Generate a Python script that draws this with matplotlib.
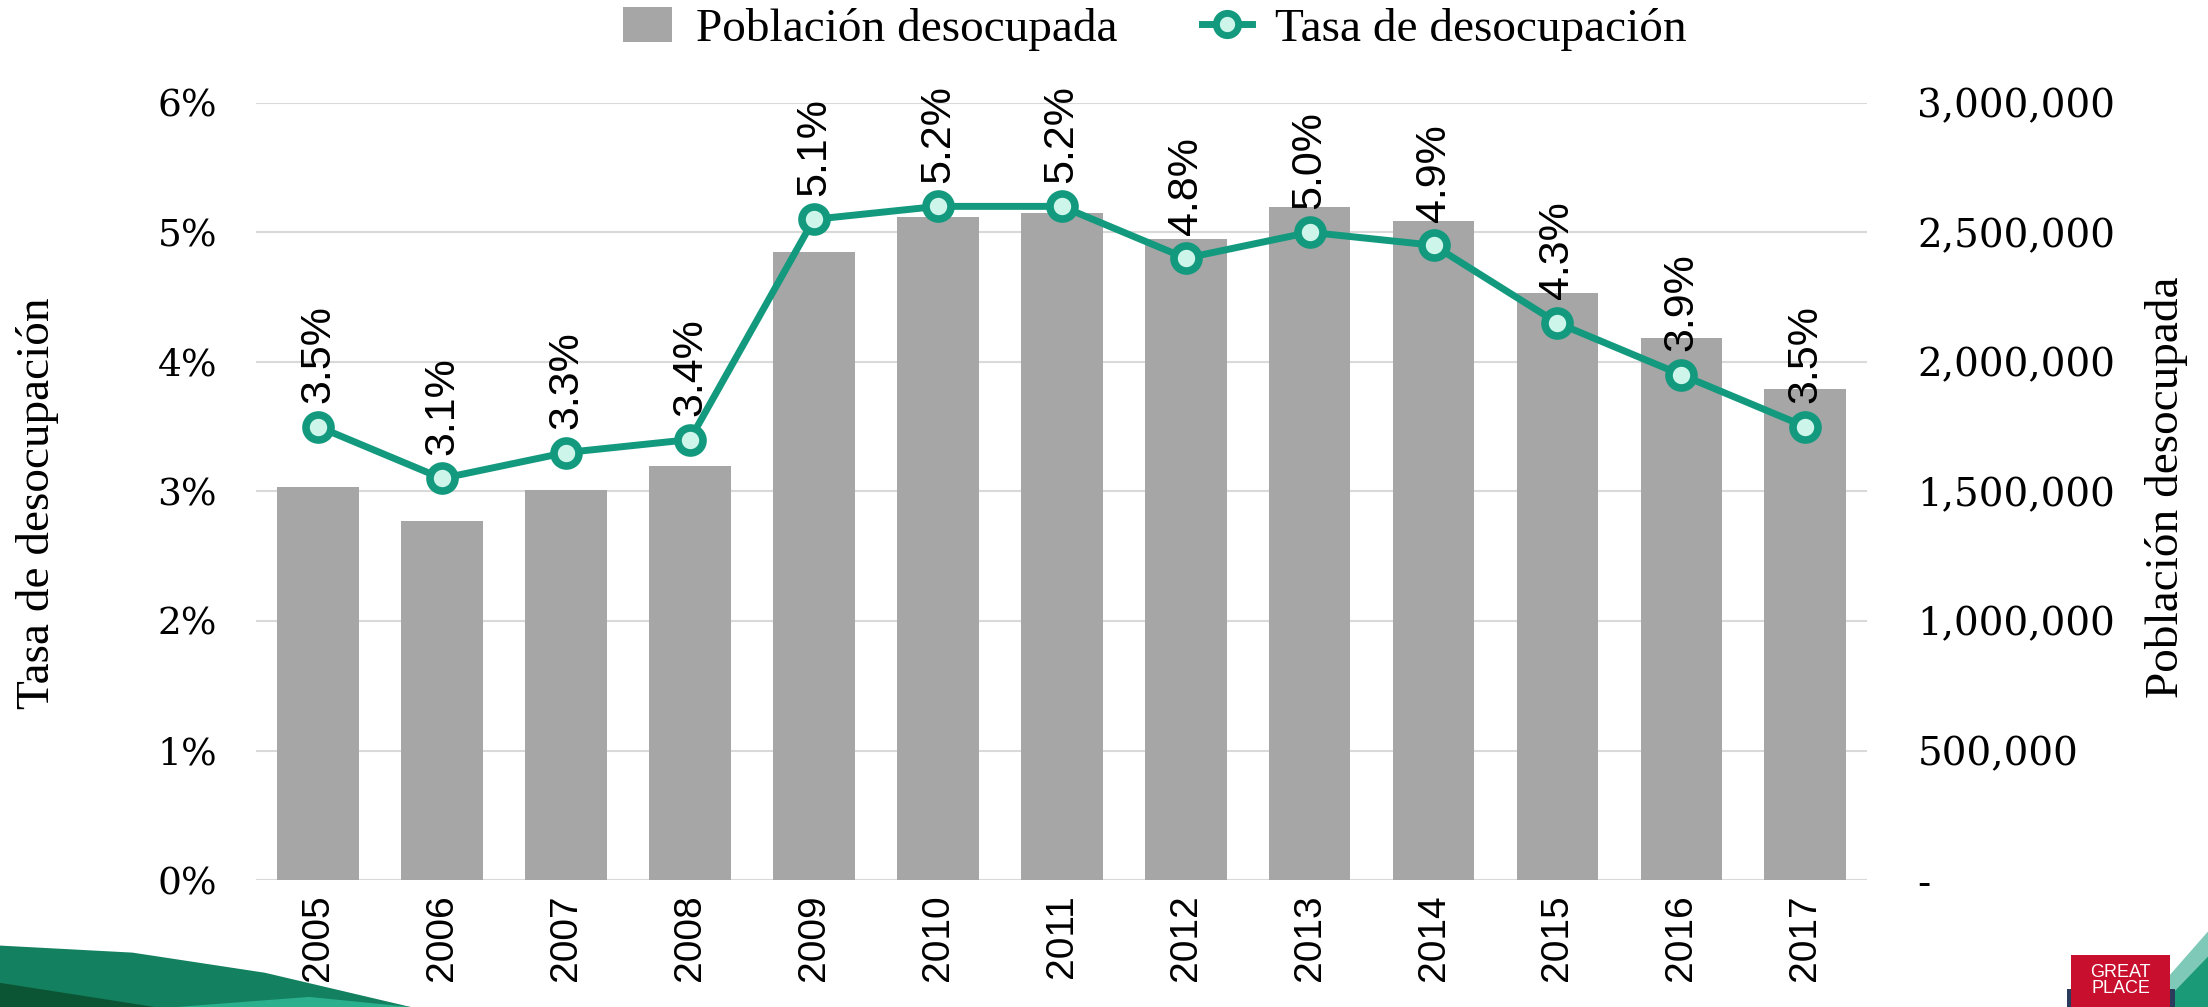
import matplotlib
matplotlib.use("Agg")
import matplotlib.pyplot as plt
from matplotlib.patches import Polygon, Rectangle, Patch
from matplotlib.lines import Line2D
from matplotlib.ticker import FuncFormatter, FixedLocator

# data
years = ["2005", "2006", "2007", "2008", "2009", "2010", "2011",
         "2012", "2013", "2014", "2015", "2016", "2017"]
poblacion = [1516000, 1386000, 1505000, 1598000, 2424000, 2560000, 2576000,
             2473000, 2598000, 2543000, 2266000, 2092000, 1897000]
tasa = [3.5, 3.1, 3.3, 3.4, 5.1, 5.2, 5.2, 4.8, 5.0, 4.9, 4.3, 3.9, 3.5]

BAR = "#A6A6A6"
GREEN = "#139A7E"
FACE = "#CDF5EA"
GRID = "#D9D9D9"
SERIF = ["Liberation Serif", "DejaVu Serif"]
TICKF = ["DejaVu Serif"]
SANS = ["Liberation Sans", "DejaVu Sans"]

fig = plt.figure(figsize=(22.08, 10.07), dpi=100)
ax = fig.add_axes([0.116, 0.126, 0.7297, 0.772])
ax2 = ax.twinx()

x = list(range(len(years)))

# bars on the right axis
ax2.bar(x, poblacion, width=0.66, color=BAR, zorder=2)
ax2.set_ylim(0, 3000000)
ax2.yaxis.set_major_locator(FixedLocator([0, 500000, 1000000, 1500000,
                                          2000000, 2500000, 3000000]))
ax2.yaxis.set_major_formatter(FuncFormatter(
    lambda v, p: "-" if v == 0 else "{:,.0f}".format(v)))
ax2.grid(axis="y", color=GRID, linewidth=1.5, zorder=0)
ax2.set_axisbelow(True)

# line on the left axis, drawn above the bars
ax.set_zorder(ax2.get_zorder() + 1)
ax.patch.set_visible(False)
ax.plot(x, tasa, color=GREEN, linewidth=5, marker="o", markersize=18,
        markerfacecolor=FACE, markeredgecolor=GREEN, markeredgewidth=5.5,
        zorder=5)
for xi, v in zip(x, tasa):
    ax.annotate("{:.1f}%".format(v), (xi, v), xytext=(0, 17),
                textcoords="offset points", rotation=90, ha="center",
                va="bottom", fontsize=31, family=SANS, color="black")

ax.set_ylim(0, 6)
ax.set_xlim(-0.5, len(years) - 0.5)
ax.yaxis.set_major_locator(FixedLocator([0, 1, 2, 3, 4, 5, 6]))
ax.yaxis.set_major_formatter(FuncFormatter(lambda v, p: "{:.0f}%".format(v)))
ax.set_xticks(x)
ax.set_xticklabels(years, rotation=90, fontsize=28, family=SANS)

for a in (ax, ax2):
    for s in a.spines.values():
        s.set_visible(False)
    a.tick_params(length=0)

ax.tick_params(axis="y", pad=28, labelsize=27)
ax.tick_params(axis="x", pad=10)
ax2.tick_params(axis="y", pad=36, labelsize=28)
for lab in ax.get_yticklabels() + ax2.get_yticklabels():
    lab.set_family(TICKF)

ax.set_ylabel("Tasa de desocupación", fontsize=34, family=SERIF)
ax.yaxis.label.set_va("center")
ax.yaxis.set_label_coords(-0.136, 0.485)
ax2.set_ylabel("Población desocupada", fontsize=34, family=SERIF)
ax2.yaxis.label.set_va("center")
ax2.yaxis.set_label_coords(1.186, 0.505)

handles = [
    Patch(facecolor=BAR, edgecolor="none"),
    Line2D([0], [0], color=GREEN, linewidth=5, marker="o", markersize=16,
           markerfacecolor=FACE, markeredgecolor=GREEN, markeredgewidth=5),
]
fig.legend(handles, ["Población desocupada", "Tasa de desocupación"],
           loc="upper center", bbox_to_anchor=(0.523, 1.035), ncol=2,
           frameon=False, prop={"family": SERIF, "size": 34},
           handlelength=1.05, handleheight=0.75, columnspacing=1.8,
           handletextpad=0.5)

# decorative swoosh bottom-left
fig.patches.append(Polygon([(0, 0), (0, 0.061), (0.06, 0.054), (0.12, 0.034),
                            (0.186, 0)], closed=True, transform=fig.transFigure,
                           facecolor="#13805F", edgecolor="none"))
fig.patches.append(Polygon([(0, 0), (0, 0.024), (0.07, 0)], closed=True,
                           transform=fig.transFigure, facecolor="#0C5534",
                           edgecolor="none"))
fig.patches.append(Polygon([(0.08, 0), (0.14, 0.01), (0.186, 0)], closed=True,
                           transform=fig.transFigure, facecolor="#2BB08E",
                           edgecolor="none"))

# logo bottom-right
fig.patches.append(Polygon([(0.97, 0), (1.0, 0.075), (1.0, 0)], closed=True,
                           transform=fig.transFigure, facecolor="#7FC9B8",
                           edgecolor="none"))
fig.patches.append(Polygon([(0.978, 0), (1.0, 0.05), (1.0, 0)], closed=True,
                           transform=fig.transFigure, facecolor="#1B9A78",
                           edgecolor="none"))
fig.patches.append(Rectangle((0.936, 0), 0.049, 0.018, transform=fig.transFigure,
                             facecolor="#2B3B5C", edgecolor="none"))
fig.patches.append(Rectangle((0.938, 0), 0.045, 0.052, transform=fig.transFigure,
                             facecolor="#C8102E", edgecolor="none"))
fig.text(0.9605, 0.026, "GREAT\nPLACE", ha="center", va="center", fontsize=13,
         color="white", family=SANS, linespacing=0.9)

fig.savefig("out.png", dpi=100)
